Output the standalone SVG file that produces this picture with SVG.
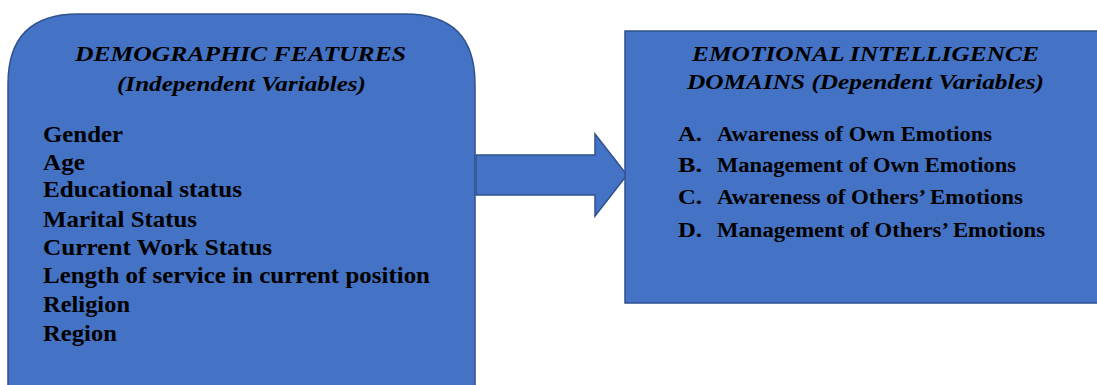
<svg xmlns="http://www.w3.org/2000/svg" width="1097" height="385" viewBox="0 0 1097 385">
<style>
.box{fill:#4472C4;stroke:#2F528F;stroke-width:1.5}
.t{font-family:"Liberation Serif","Times New Roman",serif;fill:#000;font-weight:bold}
.h{font-style:italic;font-size:22px}
.l{font-size:23px}
.r{font-size:20px}
</style>
<rect width="1097" height="385" fill="#fff"/>
<g id="connectors">
<path class="box" d="M476,155 H595 V134 L627,175 L595,216 V195 H476 Z"/>
</g>
<g id="demographic">
<path class="box" d="M8,84 Q8,14 78,14 H405 Q475,14 475,84 V400 H8 Z"/>
<text class="t h" x="75" y="61" textLength="331" lengthAdjust="spacingAndGlyphs">DEMOGRAPHIC FEATURES</text>
<text class="t h" x="117" y="91" textLength="249" lengthAdjust="spacingAndGlyphs">(Independent Variables)</text>
<text class="t l" x="43" y="142" textLength="80" lengthAdjust="spacingAndGlyphs">Gender</text>
<text class="t l" x="43" y="170" textLength="42" lengthAdjust="spacingAndGlyphs">Age</text>
<text class="t l" x="43" y="197" textLength="199" lengthAdjust="spacingAndGlyphs">Educational status</text>
<text class="t l" x="43" y="227" textLength="154" lengthAdjust="spacingAndGlyphs">Marital Status</text>
<text class="t l" x="43" y="255" textLength="229" lengthAdjust="spacingAndGlyphs">Current Work Status</text>
<text class="t l" x="43" y="283" textLength="387" lengthAdjust="spacingAndGlyphs">Length of service in current position</text>
<text class="t l" x="43" y="312" textLength="87" lengthAdjust="spacingAndGlyphs">Religion</text>
<text class="t l" x="43" y="341" textLength="74" lengthAdjust="spacingAndGlyphs">Region</text>
</g>
<g id="emotional">
<rect class="box" x="625" y="31" width="480" height="272"/>
<text class="t h" x="692" y="61" textLength="347" lengthAdjust="spacingAndGlyphs">EMOTIONAL INTELLIGENCE</text>
<text class="t h" x="687" y="89" textLength="357" lengthAdjust="spacingAndGlyphs">DOMAINS (Dependent Variables)</text>
<text class="t r" x="678" y="141" textLength="24" lengthAdjust="spacingAndGlyphs">A.</text><text class="t r" x="717" y="141" textLength="275" lengthAdjust="spacingAndGlyphs">Awareness of Own Emotions</text>
<text class="t r" x="678" y="172" textLength="24" lengthAdjust="spacingAndGlyphs">B.</text><text class="t r" x="717" y="172" textLength="299" lengthAdjust="spacingAndGlyphs">Management of Own Emotions</text>
<text class="t r" x="678" y="204" textLength="24" lengthAdjust="spacingAndGlyphs">C.</text><text class="t r" x="717" y="204" textLength="306" lengthAdjust="spacingAndGlyphs">Awareness of Others’ Emotions</text>
<text class="t r" x="678" y="237" textLength="24" lengthAdjust="spacingAndGlyphs">D.</text><text class="t r" x="717" y="237" textLength="328" lengthAdjust="spacingAndGlyphs">Management of Others’ Emotions</text>
</g>
</svg>
